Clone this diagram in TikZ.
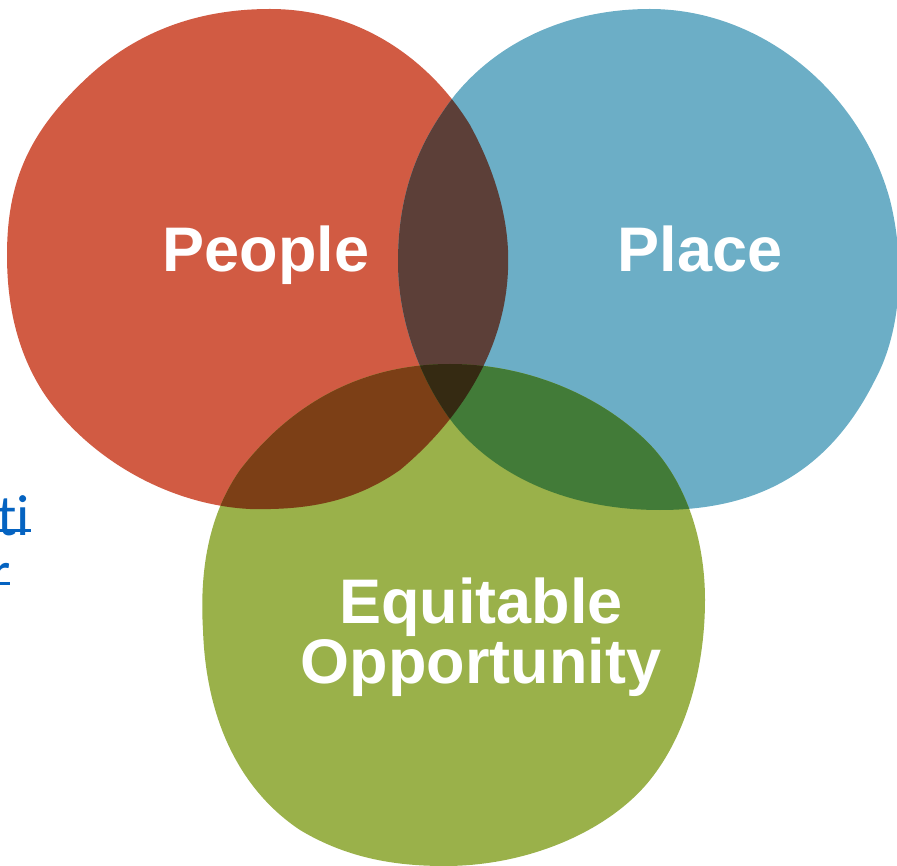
\documentclass[tikz,border=0pt]{standalone}
\usepackage{fontspec}
\newfontfamily\labfont{Liberation Sans}
\newfontfamily\linkfont{Carlito}[Ligatures=NoCommon]
\definecolor{cred}{HTML}{D15B43}
\definecolor{cblue}{HTML}{6CAEC6}
\definecolor{cgreen}{HTML}{9AB14A}
\definecolor{crb}{HTML}{5C3F38}
\definecolor{crg}{HTML}{7C3F16}
\definecolor{cbg}{HTML}{427B38}
\definecolor{crbg}{HTML}{352A12}
\definecolor{clink}{HTML}{0563C1}
\tikzset{
  lbl/.style={text=white, font=\labfont\bfseries\fontsize{63}{58}\selectfont, inner sep=0pt, align=center},
  lnk/.style={text=clink, font=\linkfont\fontsize{58}{60}\selectfont, inner sep=0pt},
  uline/.style={draw=clink, line width=2.6pt}
}
\def\redpath{(7,255) .. controls (7,180) and (30,130) .. (90,75)
  .. controls (140,30) and (200,9) .. (270,9)
  .. controls (360,9) and (430,60) .. (470,125)
  .. controls (500,180) and (510,230) .. (508,270)
  .. controls (505,350) and (460,420) .. (400,470)
  .. controls (350,505) and (300,510) .. (250,509)
  .. controls (170,505) and (90,460) .. (45,395)
  .. controls (15,350) and (7,300) .. cycle}
\def\bluepath{(398,262) .. controls (398,190) and (420,140) .. (455,95)
  .. controls (500,40) and (570,9) .. (650,9)
  .. controls (760,9) and (860,90) .. (890,200)
  .. controls (905,260) and (902,330) .. (875,380)
  .. controls (830,470) and (760,510) .. (660,510)
  .. controls (560,510) and (490,470) .. (453,423)
  .. controls (420,380) and (398,320) .. cycle}
\def\greenpath{(450,364) .. controls (360,364) and (290,405) .. (240,470)
  .. controls (205,520) and (200,580) .. (203,630)
  .. controls (206,720) and (240,790) .. (300,830)
  .. controls (350,860) and (400,866) .. (445,866)
  .. controls (530,866) and (610,830) .. (650,780)
  .. controls (690,730) and (705,660) .. (705,600)
  .. controls (705,530) and (680,470) .. (640,435)
  .. controls (590,390) and (520,364) .. cycle}
\begin{document}
\begin{tikzpicture}[x=1pt,y=-1pt]
\useasboundingbox (0,0) rectangle (897,866);
\clip (0,0) rectangle (897,866);
\fill[cred] \redpath;
\fill[cblue] \bluepath;
\fill[cgreen] \greenpath;
\begin{scope}
  \clip \redpath;
  \fill[crb] \bluepath;
  \fill[crg] \greenpath;
\end{scope}
\begin{scope}
  \clip \bluepath;
  \fill[cbg] \greenpath;
\end{scope}
\begin{scope}
  \clip \redpath;
  \clip \bluepath;
  \fill[crbg] \greenpath;
\end{scope}
\node[lbl, anchor=base] (people) at (266,272) {People};
\node[lbl, anchor=base] (place) at (700,272) {Place};
\node[lbl, anchor=base] (equit) at (481,683) {Equitable\\Opportunity};
\node[lnk, anchor=base east] (ti) at (30,535) {ti};
\node[lnk, anchor=base east] (r) at (11,591) {r};
\draw[uline] ([yshift=4.5pt]ti.base west) -- ([yshift=4.5pt,xshift=1pt]ti.base east);
\draw[uline] ([yshift=7.5pt]r.base west) -- ([yshift=7.5pt,xshift=-1pt]r.base east);
\end{tikzpicture}
\end{document}
